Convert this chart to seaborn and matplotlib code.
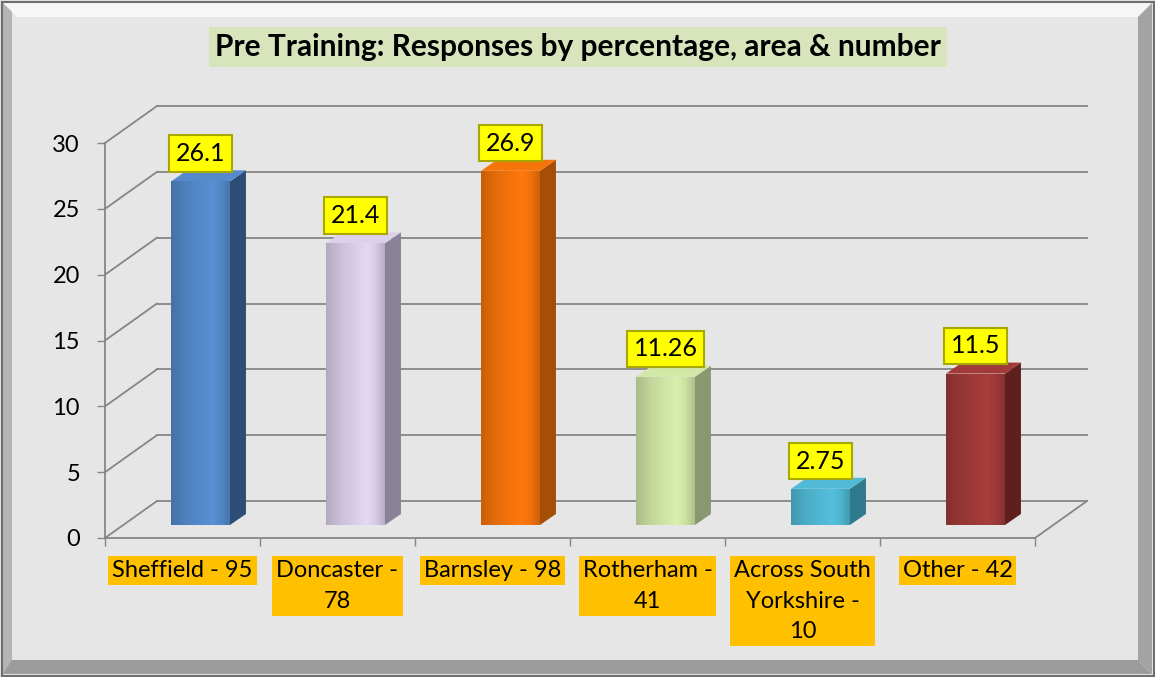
import matplotlib
matplotlib.use("Agg")
import numpy as np
import matplotlib.pyplot as plt
import matplotlib.transforms as mtransforms
from matplotlib.colors import to_rgb
from matplotlib.patches import Polygon, Rectangle
import seaborn as sns

# ------------------------------------------------------------------
# data
# ------------------------------------------------------------------
areas = ["Sheffield - 95", "Doncaster -\n78", "Barnsley - 98", "Rotherham -\n41",
         "Across South\nYorkshire -\n10", "Other - 42"]
percentages = [26.1, 21.4, 26.9, 11.26, 2.75, 11.5]
value_labels = ["26.1", "21.4", "26.9", "11.26", "2.75", "11.5"]
face_colors = ["#4f81bd", "#ccc1da", "#e46c0a", "#c3d69b", "#4bacc6", "#953735"]
side_colors = ["#2c4d75", "#8a8299", "#a64d06", "#8a9870", "#2e7a8c", "#5e1f1e"]
y_ticks = [0, 5, 10, 15, 20, 25, 30]
title = "Pre Training: Responses by percentage, area & number"

W, H = 1155, 677
FONT = ["Lato", "DejaVu Sans"]
plt.rcParams["font.family"] = FONT
GRID = "#868686"


def px(x, y):
    return (x / W, 1 - y / H)


fig = plt.figure(figsize=(W / 100, H / 100), dpi=100)
fig.patch.set_facecolor("#e6e6e6")

# bevelled frame
fig.patches.append(Polygon([px(3, 3), px(1152, 3), px(1138, 17), px(17, 17)],
                           closed=True, transform=fig.transFigure, fc="#f7f7f7", ec="none"))
fig.patches.append(Polygon([px(3, 3), px(12, 12), px(12, 665), px(3, 674)],
                           closed=True, transform=fig.transFigure, fc="#b4b4b4", ec="none"))
fig.patches.append(Polygon([px(1152, 3), px(1152, 674), px(1138, 660), px(1138, 17)],
                           closed=True, transform=fig.transFigure, fc="#a3a3a3", ec="none"))
fig.patches.append(Polygon([px(3, 674), px(1152, 674), px(1138, 660), px(12, 660)],
                           closed=True, transform=fig.transFigure, fc="#9c9c9c", ec="none"))
fig.patches.append(Rectangle(px(1.5, 675.5), 1152 / W, 674 / H, transform=fig.transFigure,
                             fc="none", ec="#6e6e6e", lw=1.5))

ax = fig.add_axes([105 / W, 139 / H, 930 / W, 395 / H])
ax.set_facecolor("none")

sns.barplot(x=areas, y=percentages, hue=areas, palette=face_colors, legend=False,
            width=0.38, saturation=1, ax=ax)

# 3d depth of the back wall (data units) and bar shift (pixels)
depth_x = 52 / 155
depth_y = 37 / (395 / 30)
shift = mtransforms.ScaledTranslation(18 / 100, 13 / 100, fig.dpi_scale_trans)
side_dx, side_dy = 16 / 155, 11 / (395 / 30)

for y in y_ticks:
    ax.plot([-0.5 + depth_x, 5.5 + depth_x], [y + depth_y, y + depth_y],
            color=GRID, lw=1.3, clip_on=False, zorder=0)
    ax.plot([-0.5, -0.5 + depth_x], [y, y + depth_y], color=GRID, lw=1.3,
            clip_on=False, zorder=0)
ax.plot([5.5, 5.5 + depth_x], [0, depth_y], color=GRID, lw=1.3, clip_on=False, zorder=0)

# horizontal shading profile of a bar face (lighter towards the right third)
t = np.linspace(0, 1, 60)
shade = np.interp(t, [0, 0.25, 0.7, 0.85, 1], [0.88, 1.0, 1.12, 1.05, 0.9])

bars = list(ax.patches)
for p, side, lab in zip(bars, side_colors, value_labels):
    p.set_transform(ax.transData + shift)
    p.set_zorder(3)
    p.set_clip_on(False)
    x0, w, h = p.get_x(), p.get_width(), p.get_height()
    base = np.array(to_rgb(p.get_facecolor()))
    grad = np.clip(base[None, None, :] * shade[None, :, None], 0, 1)
    im = ax.imshow(grad, extent=[x0, x0 + w, 0, h], aspect="auto", zorder=3.5,
                   interpolation="bilinear")
    im.set_transform(ax.transData + shift)
    im.set_clip_path(p)
    side_face = Polygon([(x0 + w, 0), (x0 + w + side_dx, side_dy),
                         (x0 + w + side_dx, h + side_dy), (x0 + w, h)],
                        closed=True, fc=side, ec="none", zorder=2, clip_on=False,
                        transform=ax.transData + shift)
    ax.add_patch(side_face)
    top_face = Polygon([(x0, h), (x0 + w, h), (x0 + w + side_dx, h + side_dy),
                        (x0 + side_dx, h + side_dy)],
                       closed=True, fc=np.clip(base * 1.08, 0, 1), ec="none", zorder=2,
                       clip_on=False, transform=ax.transData + shift)
    ax.add_patch(top_face)
    ax.annotate(lab, xy=(x0 + w / 2, h), xycoords=ax.transData + shift,
                xytext=(0, 20), textcoords="offset points", ha="center", va="center",
                fontsize=18, color="black", zorder=5,
                bbox=dict(boxstyle="square,pad=0.27", fc="#ffff00", ec="#a8a800", lw=1.5))

ax.set_ylim(0, 30)
ax.set_xlim(-0.5, 5.5)

# axes styling
for s in ["top", "right"]:
    ax.spines[s].set_visible(False)
for s in ["left", "bottom"]:
    ax.spines[s].set_color(GRID)
    ax.spines[s].set_linewidth(1.3)

ax.set_yticks(y_ticks)
ax.tick_params(axis="y", length=6, width=1, color=GRID, pad=12, labelsize=17,
               labelcolor="black")
ax.set_xticks(np.arange(-0.5, 6, 1), minor=True)
ax.tick_params(axis="x", which="minor", length=6, width=1, color=GRID)
ax.tick_params(axis="x", which="major", length=0, pad=16, labelsize=17, labelcolor="black")
for tl in ax.get_xticklabels():
    tl.set_linespacing(1.55)
    tl.set_multialignment("center")
    tl.set_bbox(dict(boxstyle="square,pad=0.17", fc="#ffc000", ec="none"))
ax.set_xlabel("")
ax.set_ylabel("")

fig.text(578 / W, 1 - 47 / H, title, ha="center", va="center", fontsize=21.5,
         fontweight="bold", color="black",
         bbox=dict(boxstyle="square,pad=0.2", fc="#d8e4bc", ec="none"))

fig.savefig("out.png", dpi=100, facecolor=fig.get_facecolor())
